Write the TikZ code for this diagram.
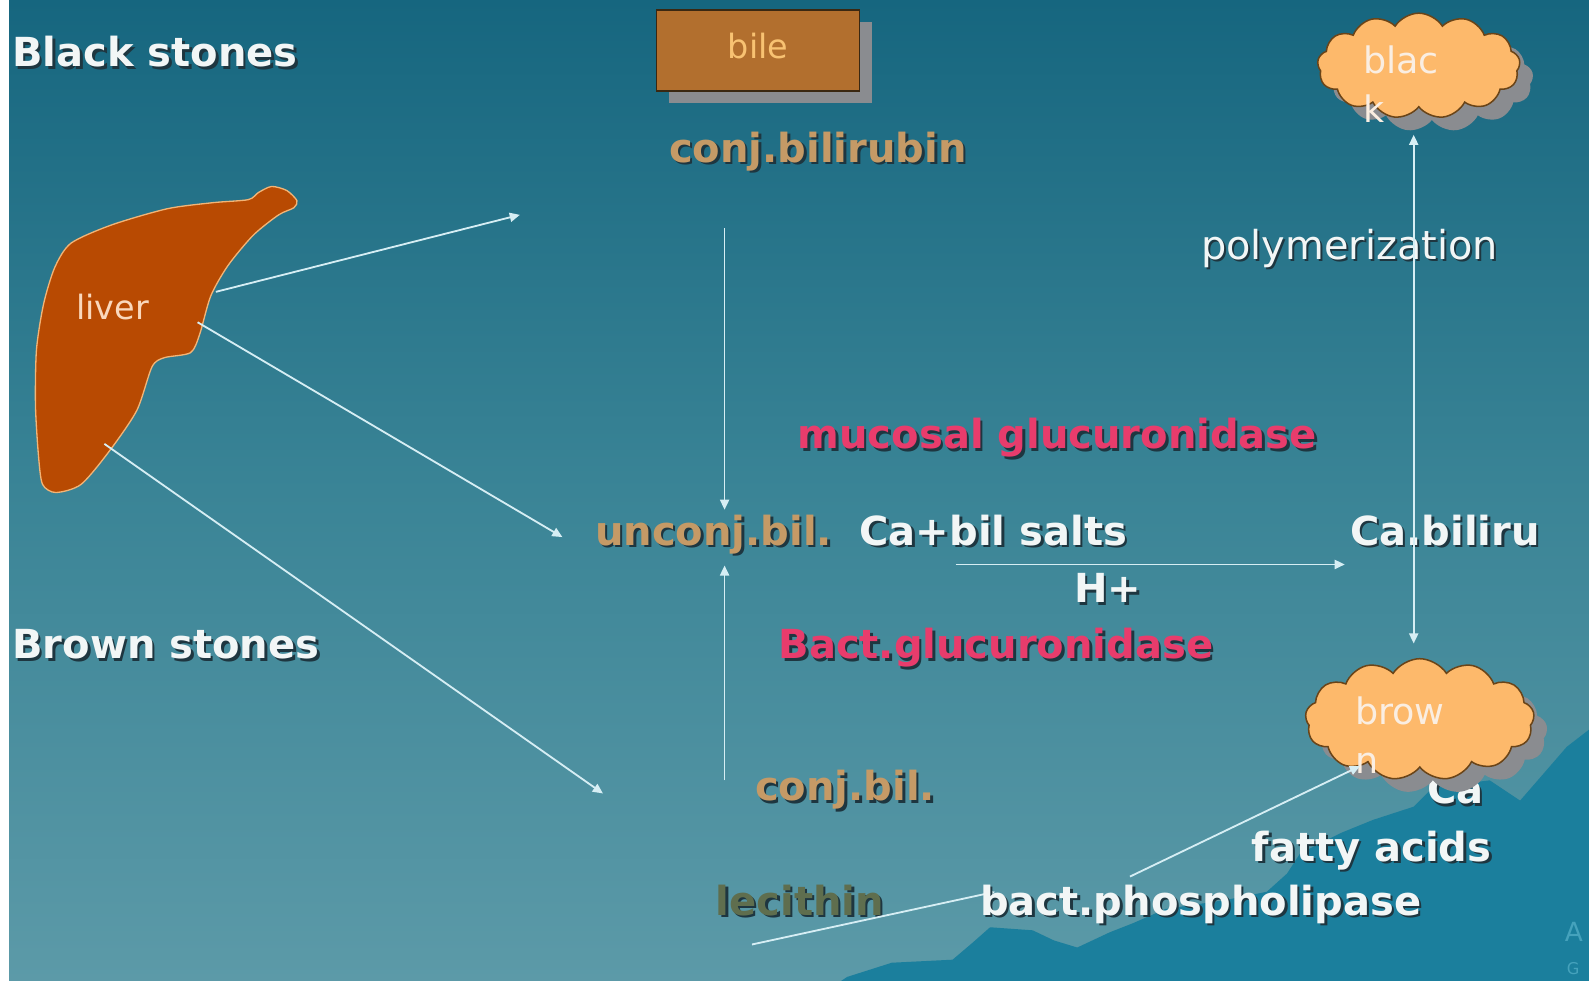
\documentclass[tikz,border=0pt]{standalone}
\usepackage{fontspec}
\setmainfont{DejaVu Sans}
\usetikzlibrary{arrows.meta,calc,shapes.symbols}

\definecolor{bgtop}{HTML}{16667F}
\definecolor{bgmid}{HTML}{3A8496}
\definecolor{bgbot}{HTML}{5C9AA8}
\definecolor{hill}{HTML}{1B7F9D}
\definecolor{liverfill}{HTML}{B84A02}
\definecolor{liveredge}{HTML}{F2B476}
\definecolor{livertext}{HTML}{FAD8BC}
\definecolor{bilefill}{HTML}{B26F2E}
\definecolor{biledge}{HTML}{3A2812}
\definecolor{biletext}{HTML}{F8C272}
\definecolor{cloudfill}{HTML}{FDB96B}
\definecolor{cloudedge}{HTML}{6A4418}
\definecolor{cloudtext}{HTML}{FAEEE2}
\definecolor{boxshadow}{HTML}{8A8C90}
\definecolor{tan}{HTML}{C59A66}
\definecolor{pinkred}{HTML}{E83C6C}
\definecolor{olive}{HTML}{5F6E4E}
\definecolor{paper}{HTML}{F2F6F6}
\definecolor{textshadow}{HTML}{1E3640}
\definecolor{arrowc}{HTML}{D6EEF4}
\definecolor{watermark}{HTML}{45A2BC}

\tikzset{
  boldlbl/.style={font=\fontsize{39.5}{44}\selectfont\bfseries, anchor=base west, inner sep=0pt},
  plainlbl/.style={font=\fontsize{33}{38}\selectfont, anchor=base west, inner sep=0pt},
  flow/.style={draw=arrowc, line width=1.8pt, -{Triangle[length=10pt,width=9pt]}},
  puff/.style={cloud, cloud puffs=13, cloud puff arc=115, cloud ignores aspect, inner sep=0pt},
}

% bold label with a dark drop shadow: name, base-left point, colour, text
\newcommand\embossed[4]{%
  \node[boldlbl, text=textshadow] (#1-shadow) at ($(#2)+(2.5,2.5)$) {#4};
  \node[boldlbl, text=#3] (#1) at (#2) {#4};
}

\begin{document}
\begin{tikzpicture}[x=1pt, y=-1pt]
\useasboundingbox (0,0) rectangle (1568,968);
\clip (0,0) rectangle (1568,968);

% backdrop
\shade[top color=bgtop, bottom color=bgbot, middle color=bgmid] (0,0) rectangle (1568,968);
\fill[white] (0,0) rectangle (9,968);

% hill silhouette in the lower right corner
\fill[hill] (830,968) -- (836,964) -- (880,950) -- (940,947) -- (960,930) -- (977,915)
  -- (1019,918) -- (1040,928) -- (1063,935) -- (1095,920) -- (1118,911) -- (1150,897)
  -- (1210,888) -- (1250,880) -- (1270,862) -- (1283,842) -- (1323,822) -- (1355,809)
  -- (1395,796) -- (1414,777) -- (1470,770) -- (1500,790) -- (1520,767) -- (1546,737)
  -- (1568,720) -- (1568,968) -- cycle;

% faint letters at the right edge
\node[font=\fontsize{26}{30}\selectfont, text=watermark, anchor=base west, inner sep=0pt] (wm1) at (1544,929) {A};
\node[font=\fontsize{16}{20}\selectfont, text=watermark, anchor=base west, inner sep=0pt] (wm2) at (1546,962) {G};

% liver
\fill[liverfill, draw=liveredge, line width=1.3pt] plot[smooth cycle, tension=0.45] coordinates {
  (293,198) (283,188) (268,184) (255,190) (245,197) (210,200) (165,206) (110,222)
  (70,240) (54,264) (43,300) (36,345) (35,400) (38,450) (42,478) (55,486) (80,478)
  (108,445) (135,405) (150,362) (162,353) (188,348) (197,330) (208,292) (225,262)
  (250,232) (275,212) (290,205)};
\node[plainlbl, text=livertext] (liver) at (75,315) {liver};
\coordinate (lv1) at (213,288);
\coordinate (lv2) at (195,318);
\coordinate (lv3) at (103,438);
\coordinate (t1) at (513,212);
\coordinate (t2) at (555,530);
\coordinate (t3) at (595,783);

% bile box
\fill[boxshadow] (660,22) rectangle (860,102);
\node[draw=biledge, fill=bilefill, line width=1.5pt, minimum width=200pt, minimum height=80pt, inner sep=0pt] (bile) at (748,50) {};
\node[plainlbl, anchor=base, text=biletext] (biletxt) at (748,58) {bile};

% stone clouds
\node[puff, fill=boxshadow, minimum width=200pt, minimum height=104pt] (blackcloud-shadow) at (1413,78) {};
\node[puff, fill=cloudfill, draw=cloudedge, line width=1.5pt, minimum width=200pt, minimum height=104pt] (blackcloud) at (1400,65) {};
\node[plainlbl, font=\fontsize{36}{40}\selectfont, text=cloudtext] (blac) at (1345,73) {blac};
\node[plainlbl, font=\fontsize{36}{40}\selectfont, text=cloudtext] (blk) at (1345,121) {k};

\embossed{cahidden}{1408,793}{paper}{Ca}
\node[puff, fill=boxshadow, minimum width=226pt, minimum height=120pt] (browncloud-shadow) at (1414,723) {};
\node[puff, fill=cloudfill, draw=cloudedge, line width=1.5pt, minimum width=226pt, minimum height=120pt] (browncloud) at (1401,710) {};
\node[plainlbl, font=\fontsize{36}{40}\selectfont, text=cloudtext] (brow) at (1337,715) {brow};
\node[plainlbl, font=\fontsize{36}{40}\selectfont, text=cloudtext] (brn) at (1337,763) {n};

% labels
\embossed{blackstones}{12,66}{paper}{Black stones}
\embossed{brownstones}{12,650}{paper}{Brown stones}
\embossed{conjbilirubin}{660,160}{tan}{conj.bilirubin}
\embossed{unconj}{587,538}{tan}{unconj.bil.}
\embossed{casalts}{848,538}{paper}{Ca+bil salts}
\embossed{cabiliru}{1332,538}{paper}{Ca.biliru}
\embossed{hplus}{1060,595}{paper}{H+}
\embossed{mucosal}{787,443}{pinkred}{mucosal glucuronidase}
\embossed{bactgluc}{768,650}{pinkred}{Bact.glucuronidase}
\embossed{conjbil}{745,790}{tan}{conj.bil.}
\embossed{lecithin}{706,903}{olive}{lecithin}
\embossed{fatty}{1235,850}{paper}{fatty acids}

\node[plainlbl, font=\fontsize{39.3}{44}\selectfont, text=textshadow] (polym-shadow) at (1187,258) {polymerization};
\node[plainlbl, font=\fontsize{39.3}{44}\selectfont, text=paper] (polym) at (1185,256) {polymerization};

% connectors
\coordinate (cb1) at (715,225);
\coordinate (cb2) at (715,503);
\coordinate (cj1) at (715,770);
\coordinate (cj2) at (715,558);
\coordinate (cs1) at (943,557);
\coordinate (cs2) at (1327,557);
\coordinate (pm1) at (1395,635);
\coordinate (pm2) at (1395,133);
\coordinate (lc1) at (742,932);
\coordinate (lc2) at (982,880);
\coordinate (bp1) at (1115,865);
\coordinate (bp2) at (1342,756);

\draw[flow] (lv1) -- (t1);
\draw[flow] (lv2) -- (t2);
\draw[flow] (lv3) -- (t3);
\draw[flow] (cb1) -- (cb2);
\draw[flow] (cj1) -- (cj2);
\draw[flow] (cs1) -- (cs2);
\draw[flow, {Triangle[length=10pt,width=9pt]}-{Triangle[length=10pt,width=9pt]}] (pm1) -- (pm2);
\draw[flow] (lc1) -- (lc2);
\draw[flow] (bp1) -- (bp2);

\embossed{bactphos}{967,903}{paper}{bact.phospholipase}
\end{tikzpicture}
\end{document}
